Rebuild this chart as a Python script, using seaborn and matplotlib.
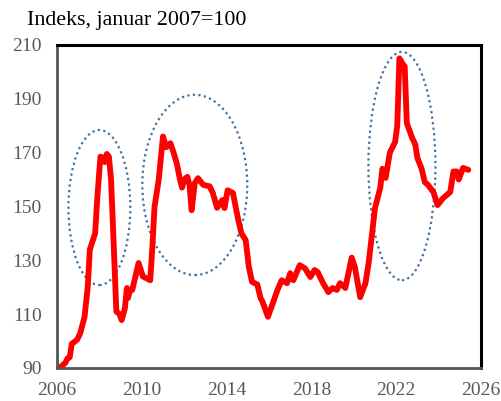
import pandas as pd
import seaborn as sns
import matplotlib.pyplot as plt
from matplotlib.patches import Ellipse

# Index values (January 2007 = 100)
years = [2006.0, 2006.2, 2006.4, 2006.5, 2006.6, 2006.7, 2006.95, 2007.1, 2007.3, 2007.45,
         2007.55, 2007.8, 2007.9, 2008.05, 2008.2, 2008.25, 2008.35, 2008.45, 2008.55, 2008.65,
         2008.8, 2008.95, 2009.05, 2009.2, 2009.3, 2009.35, 2009.45, 2009.55, 2009.7, 2009.85,
         2010.05, 2010.4, 2010.5, 2010.6, 2010.8, 2011.0, 2011.15, 2011.35, 2011.5, 2011.65,
         2011.8, 2011.9, 2012.0, 2012.15, 2012.25, 2012.35, 2012.5, 2012.65, 2012.9, 2013.2,
         2013.35, 2013.55, 2013.8, 2013.9, 2014.05, 2014.3, 2014.55, 2014.7, 2014.9, 2015.05,
         2015.2, 2015.45, 2015.6, 2015.7, 2015.95, 2016.2, 2016.4, 2016.6, 2016.85, 2017.0,
         2017.15, 2017.45, 2017.7, 2017.95, 2018.15, 2018.3, 2018.55, 2018.8, 2019.0, 2019.2,
         2019.35, 2019.6, 2019.9, 2020.05, 2020.3, 2020.55, 2020.7, 2021.0, 2021.25, 2021.35,
         2021.5, 2021.7, 2021.95, 2022.05, 2022.15, 2022.3, 2022.4, 2022.5, 2022.75, 2022.9,
         2023.0, 2023.2, 2023.35, 2023.5, 2023.75, 2023.95, 2024.2, 2024.55, 2024.7, 2024.85,
         2024.95, 2025.15, 2025.4]
index_values = [90, 90.5, 92, 93.6, 94, 99, 100.5, 103, 109, 120,
                134, 140, 153, 168.5, 168, 166.5, 169.5, 168.5, 160, 141,
                111, 110, 107.8, 112, 119.7, 116, 119, 119, 124, 129,
                124, 122.6, 135, 149.8, 160, 176, 172, 173.5, 170, 166,
                160, 157, 160, 161, 158, 148.6, 158.7, 160.5, 158, 157.5,
                155, 149.5, 152.4, 149.4, 156, 155, 145, 140, 137.5, 127.5,
                122, 121, 116, 114.5, 109, 114.5, 119, 122.6, 121.5, 125.2,
                122.6, 128.2, 127, 123.8, 126.4, 125.6, 121.5, 118.2, 119.7, 119,
                121.5, 119.7, 131, 127.5, 116.3, 121.5, 129, 149.4, 157, 164,
                160.6, 170, 174, 180, 205, 203, 202, 181, 175.5, 173,
                168, 164, 159, 158, 155.4, 150.5, 153, 155.4, 163, 163,
                160, 164.3, 163.6]

# Highlighted episodes: centre year, centre value, width (years), height (index points)
ellipse_x = [2008.0, 2012.5, 2022.27]
ellipse_y = [149.6, 158.0, 165.0]
ellipse_w = [2.92, 4.95, 3.16]
ellipse_h = [57.6, 67.0, 84.8]

x_ticks = [2006, 2010, 2014, 2018, 2022, 2026]
y_ticks = [90, 110, 130, 150, 170, 190, 210]

df = pd.DataFrame({"year": years, "index": index_values})

sns.set_style("white")
plt.rcParams["font.family"] = ["Liberation Serif", "DejaVu Serif"]

fig = plt.figure(figsize=(5.02, 4.01), dpi=100)
ax = fig.add_axes([0.1135, 0.0823, 0.8447, 0.8057])

sns.lineplot(data=df, x="year", y="index", ax=ax, color="#ff0000", linewidth=4.2)

for cx, cy, w, h in zip(ellipse_x, ellipse_y, ellipse_w, ellipse_h):
    ax.add_patch(Ellipse((cx, cy), w, h, fill=False, edgecolor="#41719c",
                         linestyle=(0, (1, 1.5)), linewidth=1.6))

ax.set_xlim(2006, 2026)
ax.set_ylim(90, 210)
ax.set_xticks(x_ticks)
ax.set_yticks(y_ticks)
ax.set_xlabel("")
ax.set_ylabel("")

ax.tick_params(axis="x", direction="in", length=5, width=1, color="#888888",
               labelsize=14, labelcolor="#595959", pad=10)
ax.tick_params(axis="y", direction="out", length=3, width=1, color="#888888",
               labelsize=14, labelcolor="#595959", pad=8)

for side in ["top", "right"]:
    ax.spines[side].set_color("black")
    ax.spines[side].set_linewidth(2.2)
for side in ["left", "bottom"]:
    ax.spines[side].set_color("#555555")
    ax.spines[side].set_linewidth(2.0)

fig.text(0.054, 0.948, "Indeks, januar 2007=100", fontsize=15.8, color="black",
         ha="left", va="center")

plt.savefig("out.png", dpi=100)
